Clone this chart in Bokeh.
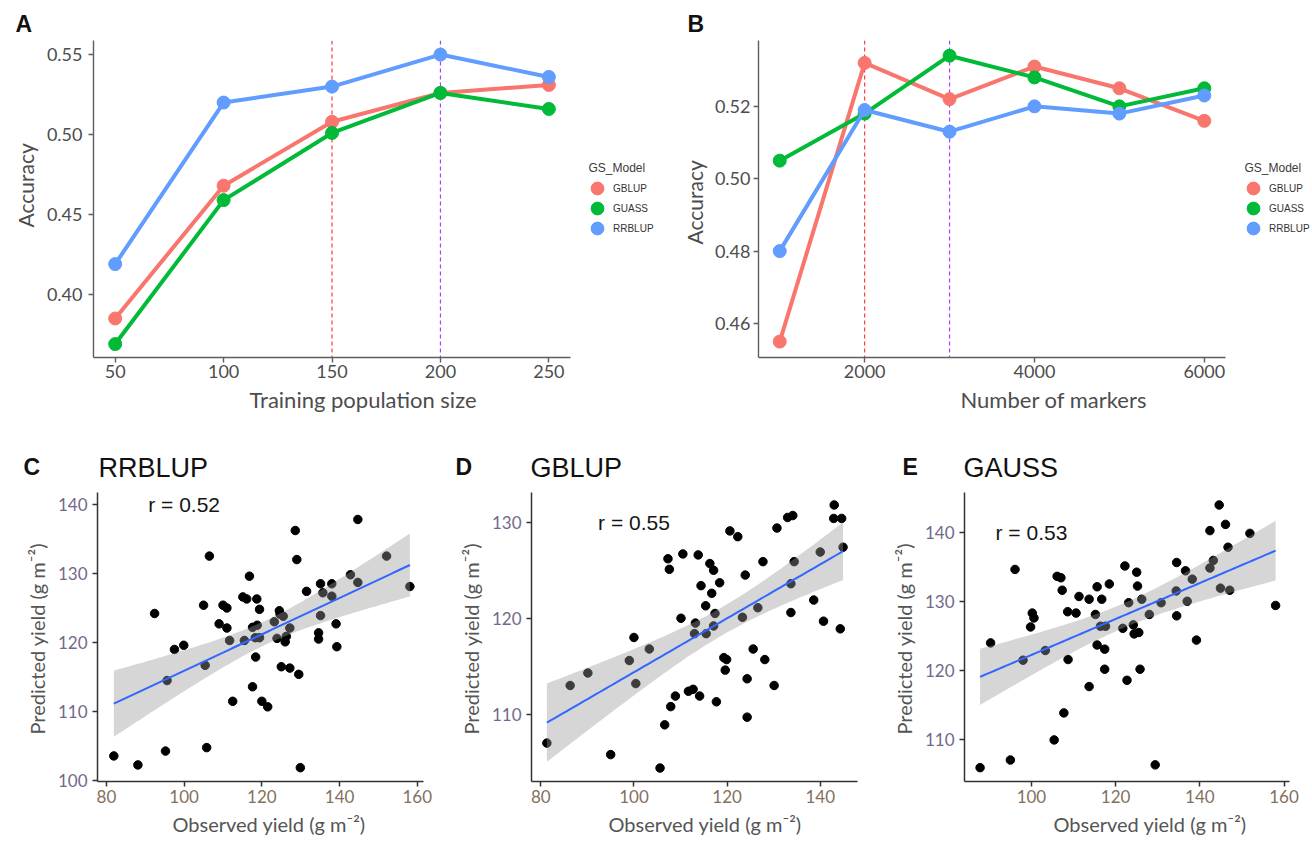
import numpy as np
from bokeh.plotting import figure
from bokeh.layouts import column, row
from bokeh.models import (Range1d, FixedTicker, Span, Label, Legend, LegendItem,
                          PrintfTickFormatter, Title)
from bokeh.core.properties import value
from bokeh.embed import file_html
from bokeh.resources import INLINE

# ---------------- data ----------------
models = ["GBLUP", "GUASS", "RRBLUP"]
model_colors = ["#F8766D", "#00BA38", "#619CFF"]

train_size = [50, 100, 150, 200, 250]
acc_train_gblup = [0.385, 0.468, 0.508, 0.526, 0.531]
acc_train_guass = [0.369, 0.459, 0.501, 0.526, 0.516]
acc_train_rrblup = [0.419, 0.520, 0.530, 0.550, 0.536]
train_vlines = [150, 200]

n_markers = [1000, 2000, 3000, 4000, 5000, 6000]
acc_mark_gblup = [0.455, 0.532, 0.522, 0.531, 0.525, 0.516]
acc_mark_guass = [0.505, 0.518, 0.534, 0.528, 0.520, 0.525]
acc_mark_rrblup = [0.480, 0.519, 0.513, 0.520, 0.518, 0.523]
marker_vlines = [2000, 3000]
vline_colors = ["#ff3b3b", "#a63dff"]

obs_rrblup = [81.9, 88.1, 92.4, 95.2, 95.6, 97.5, 99.9, 105.0, 105.4, 105.8,
              106.5, 109.0, 110.0, 111.0, 111.0, 111.7, 112.5, 115.1, 116.1, 115.5,
              116.8, 117.6, 117.6, 118.3, 118.7, 118.8, 118.4, 119.4, 119.4, 120.0,
              121.5, 123.2, 123.9, 124.5, 124.7, 125.5, 125.0, 126.0, 126.3, 127.2,
              127.2, 128.6, 129.0, 129.5, 129.9, 131.5, 134.6, 134.6, 135.1, 135.1,
              135.7, 138.0, 138.0, 139.1, 139.3, 142.8, 144.7, 144.7, 152.1, 158.1]
pred_rrblup = [103.6, 102.3, 124.2, 104.3, 114.5, 119.0, 119.6, 125.4, 116.7, 104.8,
               132.5, 122.7, 125.4, 125.0, 122.1, 120.3, 111.5, 126.6, 126.3, 120.3,
               129.6, 122.2, 113.6, 120.7, 126.3, 122.5, 117.9, 124.8, 120.7, 111.5,
               110.7, 123.0, 120.6, 124.6, 124.1, 123.8, 116.5, 120.1, 120.9, 122.1,
               116.3, 136.2, 132.0, 115.4, 101.9, 127.4, 121.4, 120.5, 128.5, 123.9,
               127.2, 128.5, 126.7, 122.7, 119.4, 129.8, 128.7, 137.8, 132.5, 128.1]

obs_gblup = [81.3, 86.3, 90.1, 95.0, 99.0, 100.0, 100.4, 103.3, 105.6, 106.6,
             107.3, 107.6, 107.9, 108.9, 110.1, 110.5, 111.7, 112.7, 113.2, 113.0,
             113.8, 114.1, 114.4, 115.4, 115.5, 116.3, 116.7, 117.1, 117.1, 117.4,
             117.7, 118.4, 119.3, 119.6, 119.9, 120.6, 122.3, 123.3, 123.9, 124.3,
             124.3, 125.6, 126.6, 127.7, 128.1, 130.1, 130.7, 133.0, 134.1, 133.7,
             133.7, 134.4, 138.6, 140.0, 140.7, 143.0, 142.9, 144.6, 144.9, 144.3]
pred_gblup = [107.0, 113.0, 114.3, 105.8, 115.6, 118.0, 113.2, 116.8, 104.4, 108.9,
              126.2, 125.1, 110.8, 111.9, 120.0, 126.7, 112.4, 112.6, 119.5, 118.4,
              126.6, 111.9, 123.4, 121.3, 118.4, 125.7, 122.6, 125.0, 119.2, 120.5,
              111.3, 123.7, 115.9, 114.6, 115.7, 129.1, 128.5, 120.1, 124.5, 113.7,
              109.7, 116.8, 121.1, 125.9, 115.7, 113.0, 129.4, 130.5, 130.7, 123.6,
              120.6, 125.9, 121.9, 126.9, 119.7, 131.8, 130.4, 130.4, 127.4, 118.9]

obs_gauss = [87.8, 90.3, 95.0, 96.1, 98.0, 99.8, 100.2, 100.6, 103.3, 105.4,
             106.1, 107.0, 107.3, 107.7, 108.6, 108.7, 110.6, 111.3, 113.7, 113.7,
             115.2, 115.6, 115.6, 116.4, 116.7, 117.4, 117.4, 117.6, 118.5, 121.7,
             122.2, 122.7, 123.1, 124.2, 124.4, 125.0, 125.2, 125.5, 125.8, 126.2,
             128.0, 130.8, 134.5, 134.4, 134.5, 136.6, 137.0, 138.2, 139.2, 142.4,
             142.4, 143.2, 144.6, 144.9, 146.1, 146.7, 147.1, 151.9, 158.0, 129.4]
pred_gauss = [106.0, 124.0, 107.1, 134.6, 121.5, 126.3, 128.3, 127.6, 122.9, 110.0,
              133.6, 133.4, 131.6, 113.9, 128.5, 121.6, 128.3, 130.7, 130.3, 117.7,
              128.1, 132.1, 123.7, 126.4, 130.3, 120.2, 123.1, 126.4, 132.5, 126.1,
              135.1, 118.6, 129.8, 126.6, 125.3, 134.2, 132.2, 125.5, 120.2, 130.3,
              128.1, 129.8, 135.6, 131.5, 127.9, 134.4, 130.0, 133.2, 124.4, 140.2,
              134.8, 135.9, 143.9, 131.9, 141.1, 137.8, 131.6, 139.8, 129.4, 106.4]

scatter_titles = ["RRBLUP", "GBLUP", "GAUSS"]
scatter_letters = ["C", "D", "E"]
top_letters = ["A", "B"]
r_values = [0.52, 0.55, 0.53]

# ---------------- styling helpers ----------------
F_SANS = "Lato"
F_ARIAL = "Liberation Sans"


def no_align(p):
    try:
        p.frame_align = False
    except Exception:
        pass


def base_fig(width, height, bl, br, bt, bb, xr, yr):
    p = figure(width=width, height=height, x_range=Range1d(*xr), y_range=Range1d(*yr),
               output_backend="svg", toolbar_location=None, tools="",
               min_border_left=bl, min_border_right=br,
               min_border_top=bt, min_border_bottom=bb)
    p.grid.visible = False
    p.outline_line_color = None
    p.background_fill_color = "white"
    p.border_fill_color = "white"
    no_align(p)
    return p


def header(width, height, items):
    h = figure(width=width, height=height, x_range=Range1d(0, width),
               y_range=Range1d(height, 0), output_backend="svg",
               toolbar_location=None, tools="", min_border=0,
               x_axis_location=None, y_axis_location=None)
    h.grid.visible = False
    h.outline_line_color = None
    no_align(h)
    for x, y, txt, size, bold in items:
        h.text(x=[x], y=[y], text=[txt], text_font=value(F_ARIAL),
               text_font_size=value(f"{size}px"),
               text_font_style=value("bold" if bold else "normal"),
               text_color="#111111", text_align="left", text_baseline="middle")
    return h


def style_axis(ax, line_color, line_width, lab_color, lab_size, standoff, ticks):
    ax.ticker = FixedTicker(ticks=ticks)
    ax.axis_line_color = line_color
    ax.axis_line_width = line_width
    ax.major_tick_line_color = line_color
    ax.major_tick_line_width = line_width
    ax.major_tick_out = 5
    ax.major_tick_in = 0
    ax.minor_tick_line_color = None
    ax.major_label_text_color = lab_color
    ax.major_label_text_font = F_SANS
    ax.major_label_text_font_size = f"{lab_size}px"
    ax.major_label_standoff = standoff


def add_title(p, side, text, size, color, offset, standoff):
    p.add_layout(Title(text=text, align="left", offset=offset, standoff=standoff,
                       text_font=F_SANS, text_font_size=f"{size}px",
                       text_color=color, text_font_style="normal"), side)


def line_panel(xvals, series, xr, x_ext, yr, xticks, yticks, vlines, width, bl,
               xtitle, xtitle_off, ytitle_off, ytitle_standoff, ystandoff, legend_dx):
    p = base_fig(width, 402, bl, 0, 2, 83, (xr[0], x_ext), yr)
    style_axis(p.xaxis[0], "#5e5e5e", 1.4, "#4d4d4d", 18, 2, xticks)
    p.xaxis[0].bounds = xr
    style_axis(p.yaxis[0], "#5e5e5e", 1.4, "#4d4d4d", 18, ystandoff, yticks)
    p.yaxis[0].formatter = PrintfTickFormatter(format="%.2f")
    for v, c in zip(vlines, vline_colors):
        p.add_layout(Span(location=v, dimension="height", line_color=c,
                          line_dash="4 3", line_width=1.2, level="underlay"))
    pts = []
    for name, col, ys in zip(models, model_colors, series):
        p.line(xvals, ys, line_color=col, line_width=4)
        pts.append(p.scatter(xvals, ys, size=13, color=col))
    for i, (name, r) in enumerate(zip(models, pts)):
        leg = Legend(items=[LegendItem(label=name, renderers=[r])],
                     location=(legend_dx, 153 - 20 * i),
                     glyph_width=32, glyph_height=32, label_height=32,
                     label_standoff=0, padding=0, margin=0, spacing=0,
                     border_line_color=None, background_fill_alpha=0,
                     label_text_font=F_ARIAL, label_text_font_size="10px",
                     label_text_color="#333333")
        p.add_layout(leg)
    p.add_layout(Label(x=legend_dx + 7, y=190, x_units="screen", y_units="screen",
                       text="GS_Model", text_font=F_ARIAL, text_font_size="12px",
                       text_color="#3a3a3a", text_baseline="middle"))
    add_title(p, "below", xtitle, 22, "#4d4d4d", xtitle_off, 6)
    add_title(p, "left", "Accuracy", 21, "#4d4d4d", ytitle_off, ytitle_standoff)
    return p


pA = line_panel(train_size, [acc_train_gblup, acc_train_guass, acc_train_rrblup],
                (40, 260), 308.4, (0.3606, 0.5588), [50, 100, 150, 200, 250],
                [0.40, 0.45, 0.50, 0.55], train_vlines, 675, 93,
                "Training population size", 156, 130, 12, 6, 488)
pB = line_panel(n_markers, [acc_mark_gblup, acc_mark_guass, acc_mark_rrblup],
                (750, 6250), 7274.6, (0.4506, 0.5382), [2000, 4000, 6000],
                [0.46, 0.48, 0.50, 0.52], marker_vlines, 637, 83,
                "Number of markers", 202, 113, 9, 3, 479)
pB.xaxis[0].formatter = PrintfTickFormatter(format="%d")


def fit_band(x, y, t=2.0, n_grid=80):
    x = np.asarray(x, dtype=float)
    y = np.asarray(y, dtype=float)
    b, a = np.polyfit(x, y, 1)
    xs = np.linspace(x.min(), x.max(), n_grid)
    yhat = a + b * xs
    n = len(x)
    resid = y - (a + b * x)
    s = np.sqrt(np.sum(resid ** 2) / (n - 2))
    sxx = np.sum((x - x.mean()) ** 2)
    se = s * np.sqrt(1.0 / n + (xs - x.mean()) ** 2 / sxx)
    return xs, yhat, yhat - t * se, yhat + t * se


def scatter_panel(obs, pred, xr, yr, xticks, yticks, width, bl, br, r, r_pos,
                  xtitle_off):
    p = base_fig(width, 348, bl, br, 0, 59, xr, yr)
    style_axis(p.xaxis[0], "#333333", 1.5, "#84705e", 17, 3, xticks)
    style_axis(p.yaxis[0], "#333333", 1.5, "#706a8a", 17, 5, yticks)
    p.scatter(obs, pred, size=8.5, color="black")
    xs, yhat, lo, hi = fit_band(obs, pred)
    p.varea(x=xs, y1=lo, y2=hi, fill_color="#999999", fill_alpha=0.4)
    p.line(xs, yhat, line_color="#3366FF", line_width=2)
    p.add_layout(Label(x=r_pos[0], y=r_pos[1], text=f"r = {r:.2f}", text_font=F_ARIAL,
                       text_font_size="21px", text_color="#151515",
                       text_align="center", text_baseline="middle"))
    add_title(p, "below", "Observed yield (g m\u207b\u00b2)", 20, "#555555", xtitle_off, 8)
    add_title(p, "left", "Predicted yield (g m\u207b\u00b2)", 20, "#555555", 47, 12)
    return p


pC = scatter_panel(obs_rrblup, pred_rrblup, (77.7, 161.6), (99.9, 141.7),
                   [80, 100, 120, 140, 160], [100, 110, 120, 130, 140],
                   440, 97, 17, r_values[0], (100, 140), 75)
pD = scatter_panel(obs_gblup, pred_gblup, (78.0, 148.0), (103.0, 133.1),
                   [80, 100, 120, 140], [110, 120, 130],
                   433, 91, 16, r_values[1], (100, 130), 77)
pE = scatter_panel(obs_gauss, pred_gauss, (84.1, 161.3), (104.0, 145.7),
                   [100, 120, 140, 160], [110, 120, 130, 140],
                   439, 91, 23, r_values[2], (100, 140), 89)

h_top = header(1312, 38, [(15, 23.5, top_letters[0], 23, True),
                          (687, 23.5, top_letters[1], 23, True)])
h_bot = header(1312, 52, [(23, 26.5, scatter_letters[0], 23, True),
                          (98, 27, scatter_titles[0], 27, False),
                          (455, 26.5, scatter_letters[1], 23, True),
                          (530, 27, scatter_titles[1], 27, False),
                          (902, 26.5, scatter_letters[2], 23, True),
                          (963, 27, scatter_titles[2], 27, False)])

layout = column(h_top, row(pA, pB), h_bot, row(pC, pD, pE))
open("out.html", "w").write(file_html(layout, INLINE))
